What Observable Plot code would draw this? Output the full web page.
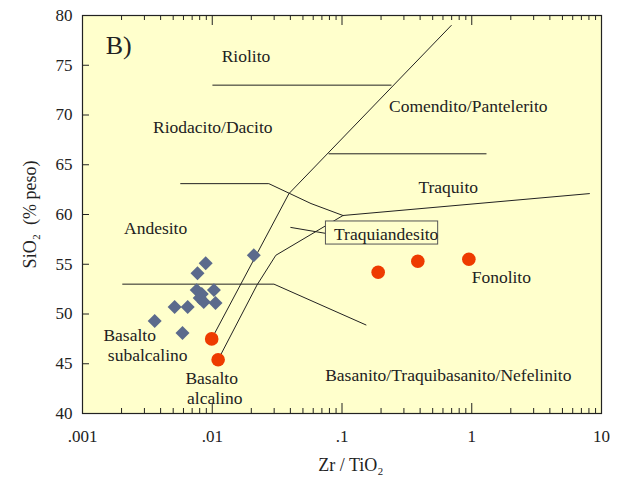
<!DOCTYPE html>
<html><head><meta charset="utf-8">
<script src="https://cdn.jsdelivr.net/npm/d3@7"></script>
<script src="https://cdn.jsdelivr.net/npm/@observablehq/plot@0.6"></script>
<style>
body{margin:0;background:#fff}
svg, svg text { font-family: "Liberation Serif", "Times New Roman", serif !important; }
</style>
</head><body><div id="chart"></div>
<script>
// ---- data ----
const diamondX = [0.0209, 0.0089, 0.0077, 0.00759, 0.0083, 0.0080, 0.0086, 0.0103, 0.0106, 0.00647, 0.00513, 0.0036, 0.0059];
const diamondY = [55.9, 55.1, 54.1, 52.4, 52.0, 51.6, 51.2, 52.4, 51.1, 50.7, 50.7, 49.3, 48.1];
const circleX = [0.0099, 0.0111, 0.19, 0.384, 0.95];
const circleY = [47.5, 45.4, 54.2, 55.3, 55.5];

// field boundaries
const bRiolitoX = [0.0101, 0.239], bRiolitoY = [73, 73];
const bComenditoX = [0.0794, 1.29], bComenditoY = [66.1, 66.1];
const bDaciteX = [0.00571, 0.0273, 0.0577, 0.1018], bDaciteY = [63.1, 63.1, 61.1, 59.9];
const bBasaltX = [0.00204, 0.0299, 0.153], bBasaltY = [53, 53, 48.9];
const bSubalkX = [0.0099, 0.039, 0.695], bSubalkY = [47.5, 62.1, 79.0];
const bAlkX = [0.0112, 0.0221, 0.0309, 0.1018, 8.07], bAlkY = [45.5, 52.9, 55.9, 59.9, 62.1];
const bTrachyX = [0.0403, 0.0752], bTrachyY = [58.7, 58.1];

const boxX1 = 0.0752, boxX2 = 0.551, boxY1 = 56.98, boxY2 = 59.3;

const labelText = ["Riolito", "Comendito/Pantelerito", "Riodacito/Dacito", "Traquito", "Andesito", "Traquiandesito", "Fonolito", "Basalto", "subalcalino", "Basalto", "alcalino", "Basanito/Traquibasanito/Nefelinito"];
const labelX = [0.0182, 0.94, 0.0101, 0.659, 0.00366, 0.219, 1.69, 0.00231, 0.00318, 0.0099, 0.01045, 0.659];
const labelY = [75.9, 70.85, 68.74, 62.7, 58.6, 58.0, 53.67, 47.84, 45.83, 43.52, 41.5, 43.8];

const panelLabel = "B)", panelX = 0.00151, panelY = 77.0;

const xTickValues = [0.001, 0.01, 0.1, 1, 10];
const xTickLabels = [".001", ".01", ".1", "1", "10"];
const yTickValues = [40, 45, 50, 55, 60, 65, 70, 75, 80];
const minorMultipliers = [2, 3, 4, 5, 6, 7, 8, 9];

const xTitle = "Zr / TiO₂";
const yTitle = "SiO₂  (% peso)";

// ---- build tables ----
const diamonds = diamondX.map((x, i) => ({x, y: diamondY[i]}));
const circles = circleX.map((x, i) => ({x, y: circleY[i]}));
const boundaries = [];
[[bRiolitoX, bRiolitoY], [bComenditoX, bComenditoY], [bDaciteX, bDaciteY], [bBasaltX, bBasaltY],
 [bSubalkX, bSubalkY], [bAlkX, bAlkY], [bTrachyX, bTrachyY]].forEach(([xs, ys], id) =>
  xs.forEach((x, i) => boundaries.push({id, x, y: ys[i]})));
const labels = labelText.map((t, i) => ({t, x: labelX[i], y: labelY[i]}));
const minorTicks = [];
xTickValues.slice(0, -1).forEach(d => minorMultipliers.forEach(m => minorTicks.push(d * m)));

const W = 622, H = 479, mL = 82, mR = 21, mT = 15, mB = 66;
const innerH = H - mT - mB, innerW = W - mL - mR;
const serif = "Liberation Serif";
const bg = "#FFFFCC", ink = "#222";

const chart = Plot.plot({
  width: W, height: H,
  marginLeft: mL, marginRight: mR, marginTop: mT, marginBottom: mB,
  style: {fontFamily: serif, fontSize: "17px", background: "#fff", color: ink},
  x: {type: "log", domain: [0.001, 10]},
  y: {domain: [40, 80]},
  marks: [
    Plot.frame({fill: bg, stroke: null}),
    Plot.line(boundaries, {x: "x", y: "y", z: "id", stroke: ink, strokeWidth: 1}),
    Plot.rect([{}], {x1: () => boxX1, x2: () => boxX2, y1: () => boxY1, y2: () => boxY2, fill: bg, stroke: "#555", strokeWidth: 1}),
    Plot.text(labels, {x: "x", y: "y", text: "t", fontSize: 17.5, fontFamily: serif, fill: ink}),
    Plot.text([panelLabel], {x: () => panelX, y: () => panelY, text: d => d, fontSize: 26, fontFamily: serif, textAnchor: "start", fill: ink}),
    Plot.dot(diamonds, {x: "x", y: "y", symbol: "diamond2", r: 6.3, fill: "#5B6A8C", stroke: null}),
    Plot.dot(circles, {x: "x", y: "y", r: 6.8, fill: "#EE3B00", stroke: null}),
    // inward ticks: bottom and top (major & minor), left
    Plot.tickX(xTickValues, {x: d => d, insetTop: innerH - 10, stroke: ink}),
    Plot.tickX(xTickValues, {x: d => d, insetBottom: innerH - 10, stroke: ink}),
    Plot.tickX(minorTicks, {x: d => d, insetTop: innerH - 5, stroke: ink}),
    Plot.tickX(minorTicks, {x: d => d, insetBottom: innerH - 5, stroke: ink}),
    Plot.tickY(yTickValues, {y: d => d, insetRight: innerW - 7, stroke: ink}),
    Plot.axisX(xTickValues, {tickSize: 0, tickPadding: 16, label: null, fontSize: 17, fontFamily: serif,
      tickFormat: d => xTickLabels[xTickValues.indexOf(d)]}),
    Plot.axisY(yTickValues, {tickSize: 0, tickPadding: 10, label: null, fontSize: 17, fontFamily: serif}),
    Plot.frame({stroke: ink, strokeWidth: 1.2}),
    Plot.text([xTitle], {frameAnchor: "bottom", dy: 52, dx: 9, fontSize: 18, fontFamily: serif, fill: ink, textAnchor: "middle", lineAnchor: "middle"}),
    Plot.text([yTitle], {frameAnchor: "left", dx: -52, rotate: -90, fontSize: 18, fontFamily: serif, fill: ink, textAnchor: "middle", lineAnchor: "middle"})
  ]
});
document.getElementById("chart").appendChild(chart);
</script>
</body></html>
